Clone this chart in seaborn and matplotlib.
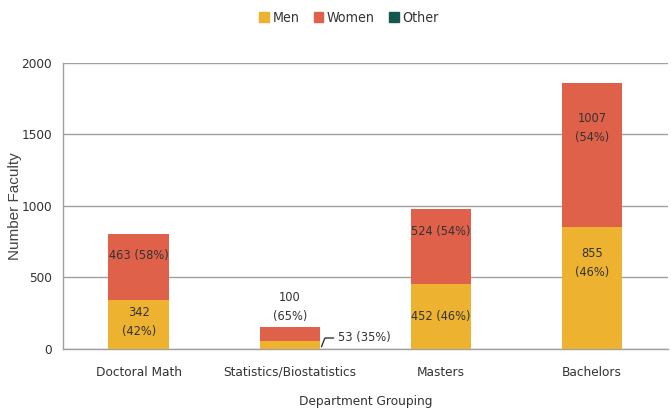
import pandas as pd
import seaborn as sns
import matplotlib.pyplot as plt
from matplotlib import font_manager as fm
from matplotlib.patches import Patch

categories = ["Doctoral Math", "Statistics/Biostatistics", "Masters", "Bachelors"]
men = [342, 53, 452, 855]
women = [463, 100, 524, 1007]
other = [0, 0, 0, 0]
men_pct = [42, 35, 46, 46]
women_pct = [58, 65, 54, 54]

c_men = "#ECB230"
c_women = "#E0614A"
c_other = "#13574F"

df = pd.DataFrame({"group": categories, "men": men, "women": women, "other": other})
df["mw"] = df["men"] + df["women"]
df["total"] = df["mw"] + df["other"]

sns.set_style("white")

# look for a narrow face, like the original's Arial Narrow
files = [f.fname for f in fm.fontManager.ttflist]
narrow = [f for f in files if "Narrow-Regular" in f or f.endswith("DejaVuSansCondensed.ttf")]
if narrow:
    fp = fm.FontProperties(fname=narrow[0])
    plt.rcParams["font.family"] = [fp.get_name(), "DejaVu Sans"]
    if "Condensed" in narrow[0]:
        plt.rcParams["font.stretch"] = "condensed"
    fs = 10.5 if "Narrow" in narrow[0] else 9.2
else:
    plt.rcParams["font.family"] = ["Liberation Sans", "DejaVu Sans"]
    fs = 9.2

fig = plt.figure(figsize=(6.71, 4.09), dpi=100)
ax = fig.add_axes([0.094, 0.147, 0.901, 0.699])

bar_kw = dict(saturation=1, width=0.4, ax=ax, zorder=3, linewidth=0, edgecolor="none")
sns.barplot(data=df, x="group", y="total", color=c_other, **bar_kw)
sns.barplot(data=df, x="group", y="mw", color=c_women, **bar_kw)
sns.barplot(data=df, x="group", y="men", color=c_men, **bar_kw)

ax.set_ylim(0, 2000)
ax.set_xlim(-0.5, 3.5)
ax.set_yticks([0, 500, 1000, 1500, 2000])
ax.yaxis.grid(True, color="#a0a0a0", linewidth=1.0, zorder=0)
ax.set_axisbelow(True)
for s in ["top", "right"]:
    ax.spines[s].set_visible(False)
for s in ["left", "bottom"]:
    ax.spines[s].set_color("#a0a0a0")
    ax.spines[s].set_linewidth(1.0)

ax.set_xticks([0.5, 1.5, 2.5], minor=True)
ax.tick_params(axis="x", which="major", length=0, labelsize=fs + 0.5, pad=12, colors="#333333")
ax.tick_params(axis="x", which="minor", length=5, color="#a0a0a0", direction="out")
ax.tick_params(axis="y", length=6, color="#a0a0a0", labelsize=fs + 0.5, colors="#333333", pad=2)
ax.set_xlabel("Department Grouping", fontsize=fs + 0.5, color="#333333", labelpad=12)
ax.set_ylabel("Number Faculty", fontsize=11, color="#444444", family="Liberation Sans",
              stretch="normal")
ax.yaxis.set_label_coords(-0.068, 0.5)

tk = dict(ha="center", va="center", fontsize=fs, color="#333333", zorder=5)
# men labels
ax.text(0, 185, f"{men[0]}\n({men_pct[0]}%)", linespacing=1.6, **tk)
ax.text(2, 226, f"{men[2]} ({men_pct[2]}%)", **tk)
ax.text(3, 600, f"{men[3]}\n({men_pct[3]}%)", linespacing=1.6, **tk)
ax.text(1.32, 78, f"{men[1]} ({men_pct[1]}%)", ha="left", va="center", fontsize=fs, color="#333333")
ax.plot([1.21, 1.23, 1.235, 1.29], [15, 70, 76, 76], color="#333333", lw=1, clip_on=False)
# women labels
ax.text(0, 650, f"{women[0]} ({women_pct[0]}%)", **tk)
ax.text(2, 818, f"{women[2]} ({women_pct[2]}%)", **tk)
ax.text(3, 1545, f"{women[3]}\n({women_pct[3]}%)", linespacing=1.6, **tk)
ax.text(1, 295, f"{women[1]}\n({women_pct[1]}%)", linespacing=1.6, **tk)

handles = [Patch(color=c_men, label="Men"), Patch(color=c_women, label="Women"),
           Patch(color=c_other, label="Other")]
fig.legend(handles=handles, loc="center", bbox_to_anchor=(0.52, 0.955), ncol=3, frameon=False,
           fontsize=fs + 1, handlelength=0.7, handleheight=0.7, handletextpad=0.25, columnspacing=1.0,
           labelcolor="#333333")

fig.savefig("out.png", dpi=100)
